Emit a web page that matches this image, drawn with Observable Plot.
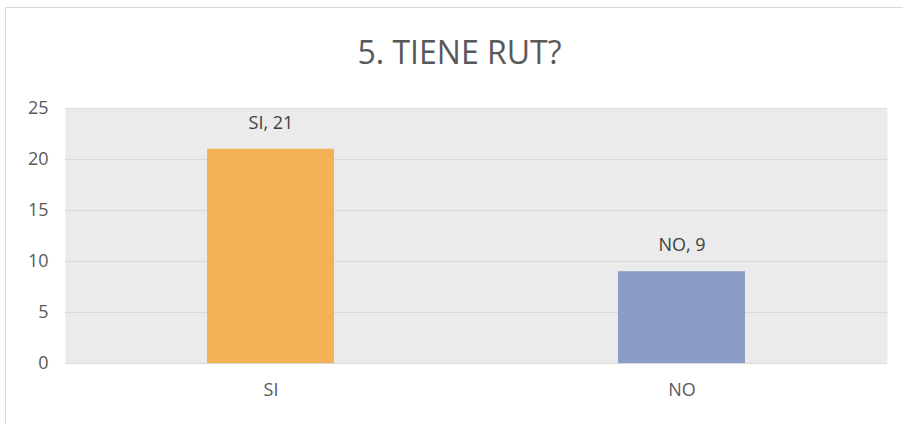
<!DOCTYPE html>
<html>
<head>
<meta charset="utf-8">
<script src="https://cdn.jsdelivr.net/npm/d3@7"></script>
<script src="https://cdn.jsdelivr.net/npm/@observablehq/plot@0.6"></script>
<style>
  html, body { margin: 0; padding: 0; background: #fff; overflow: hidden; }
  #wrap { position: relative; width: 903px; height: 424px; overflow: hidden; }
  #border { position: absolute; left: 5px; top: 7px; width: 920px; height: 440px; border: 1px solid #d9d9d9; box-sizing: border-box; }
  #title { position: absolute; left: 0; top: 0; width: 903px; height: 90px; line-height: 104px; text-align: center;
           font-family: "Open Sans", sans-serif; font-size: 32px; color: #595959; padding-left: 16px; box-sizing: border-box; }
  #chart { position: absolute; left: 0; top: 90px; }
</style>
</head>
<body>
<div id="wrap">
  <div id="border"></div>
  <div id="title">5. TIENE RUT?</div>
  <div id="chart"></div>
</div>
<script>
const categories = ["SI", "NO"];
const values = [21, 9];
const colors = ["#F5B155", "#8A9DC7"];
const yTicks = [0, 5, 10, 15, 20, 25];

const data = categories.map((c, i) => ({ cat: c, value: values[i], color: colors[i], label: `${c}, ${values[i]}` }));

const chart = Plot.plot({
  width: 903,
  height: 334,
  marginTop: 18,
  marginBottom: 61,
  marginLeft: 65,
  marginRight: 16,
  style: { fontFamily: "Open Sans, sans-serif", fontSize: "18px", color: "#595959", background: "transparent" },
  x: { domain: categories, paddingInner: 0.69, paddingOuter: 0.345, label: null },
  y: { domain: [0, 25], ticks: yTicks, label: null },
  marks: [
    Plot.frame({ fill: "#ebebeb", stroke: null }),
    Plot.ruleY(yTicks, { stroke: "#d9d9d9", strokeWidth: 1.2 }),
    Plot.barY(data, { x: "cat", y: "value", fill: "color" }),
    Plot.text(data, { x: "cat", y: "value", text: "label", dy: -26, fill: "#404040", fontSize: 18 }),
    Plot.axisY({ ticks: yTicks, tickSize: 0, tickPadding: 17, fontSize: 18, fill: "#595959", label: null }),
    Plot.axisX({ tickSize: 0, tickPadding: 20, fontSize: 18, fill: "#595959", label: null })
  ]
});
document.getElementById("chart").appendChild(chart);
</script>
</body>
</html>
